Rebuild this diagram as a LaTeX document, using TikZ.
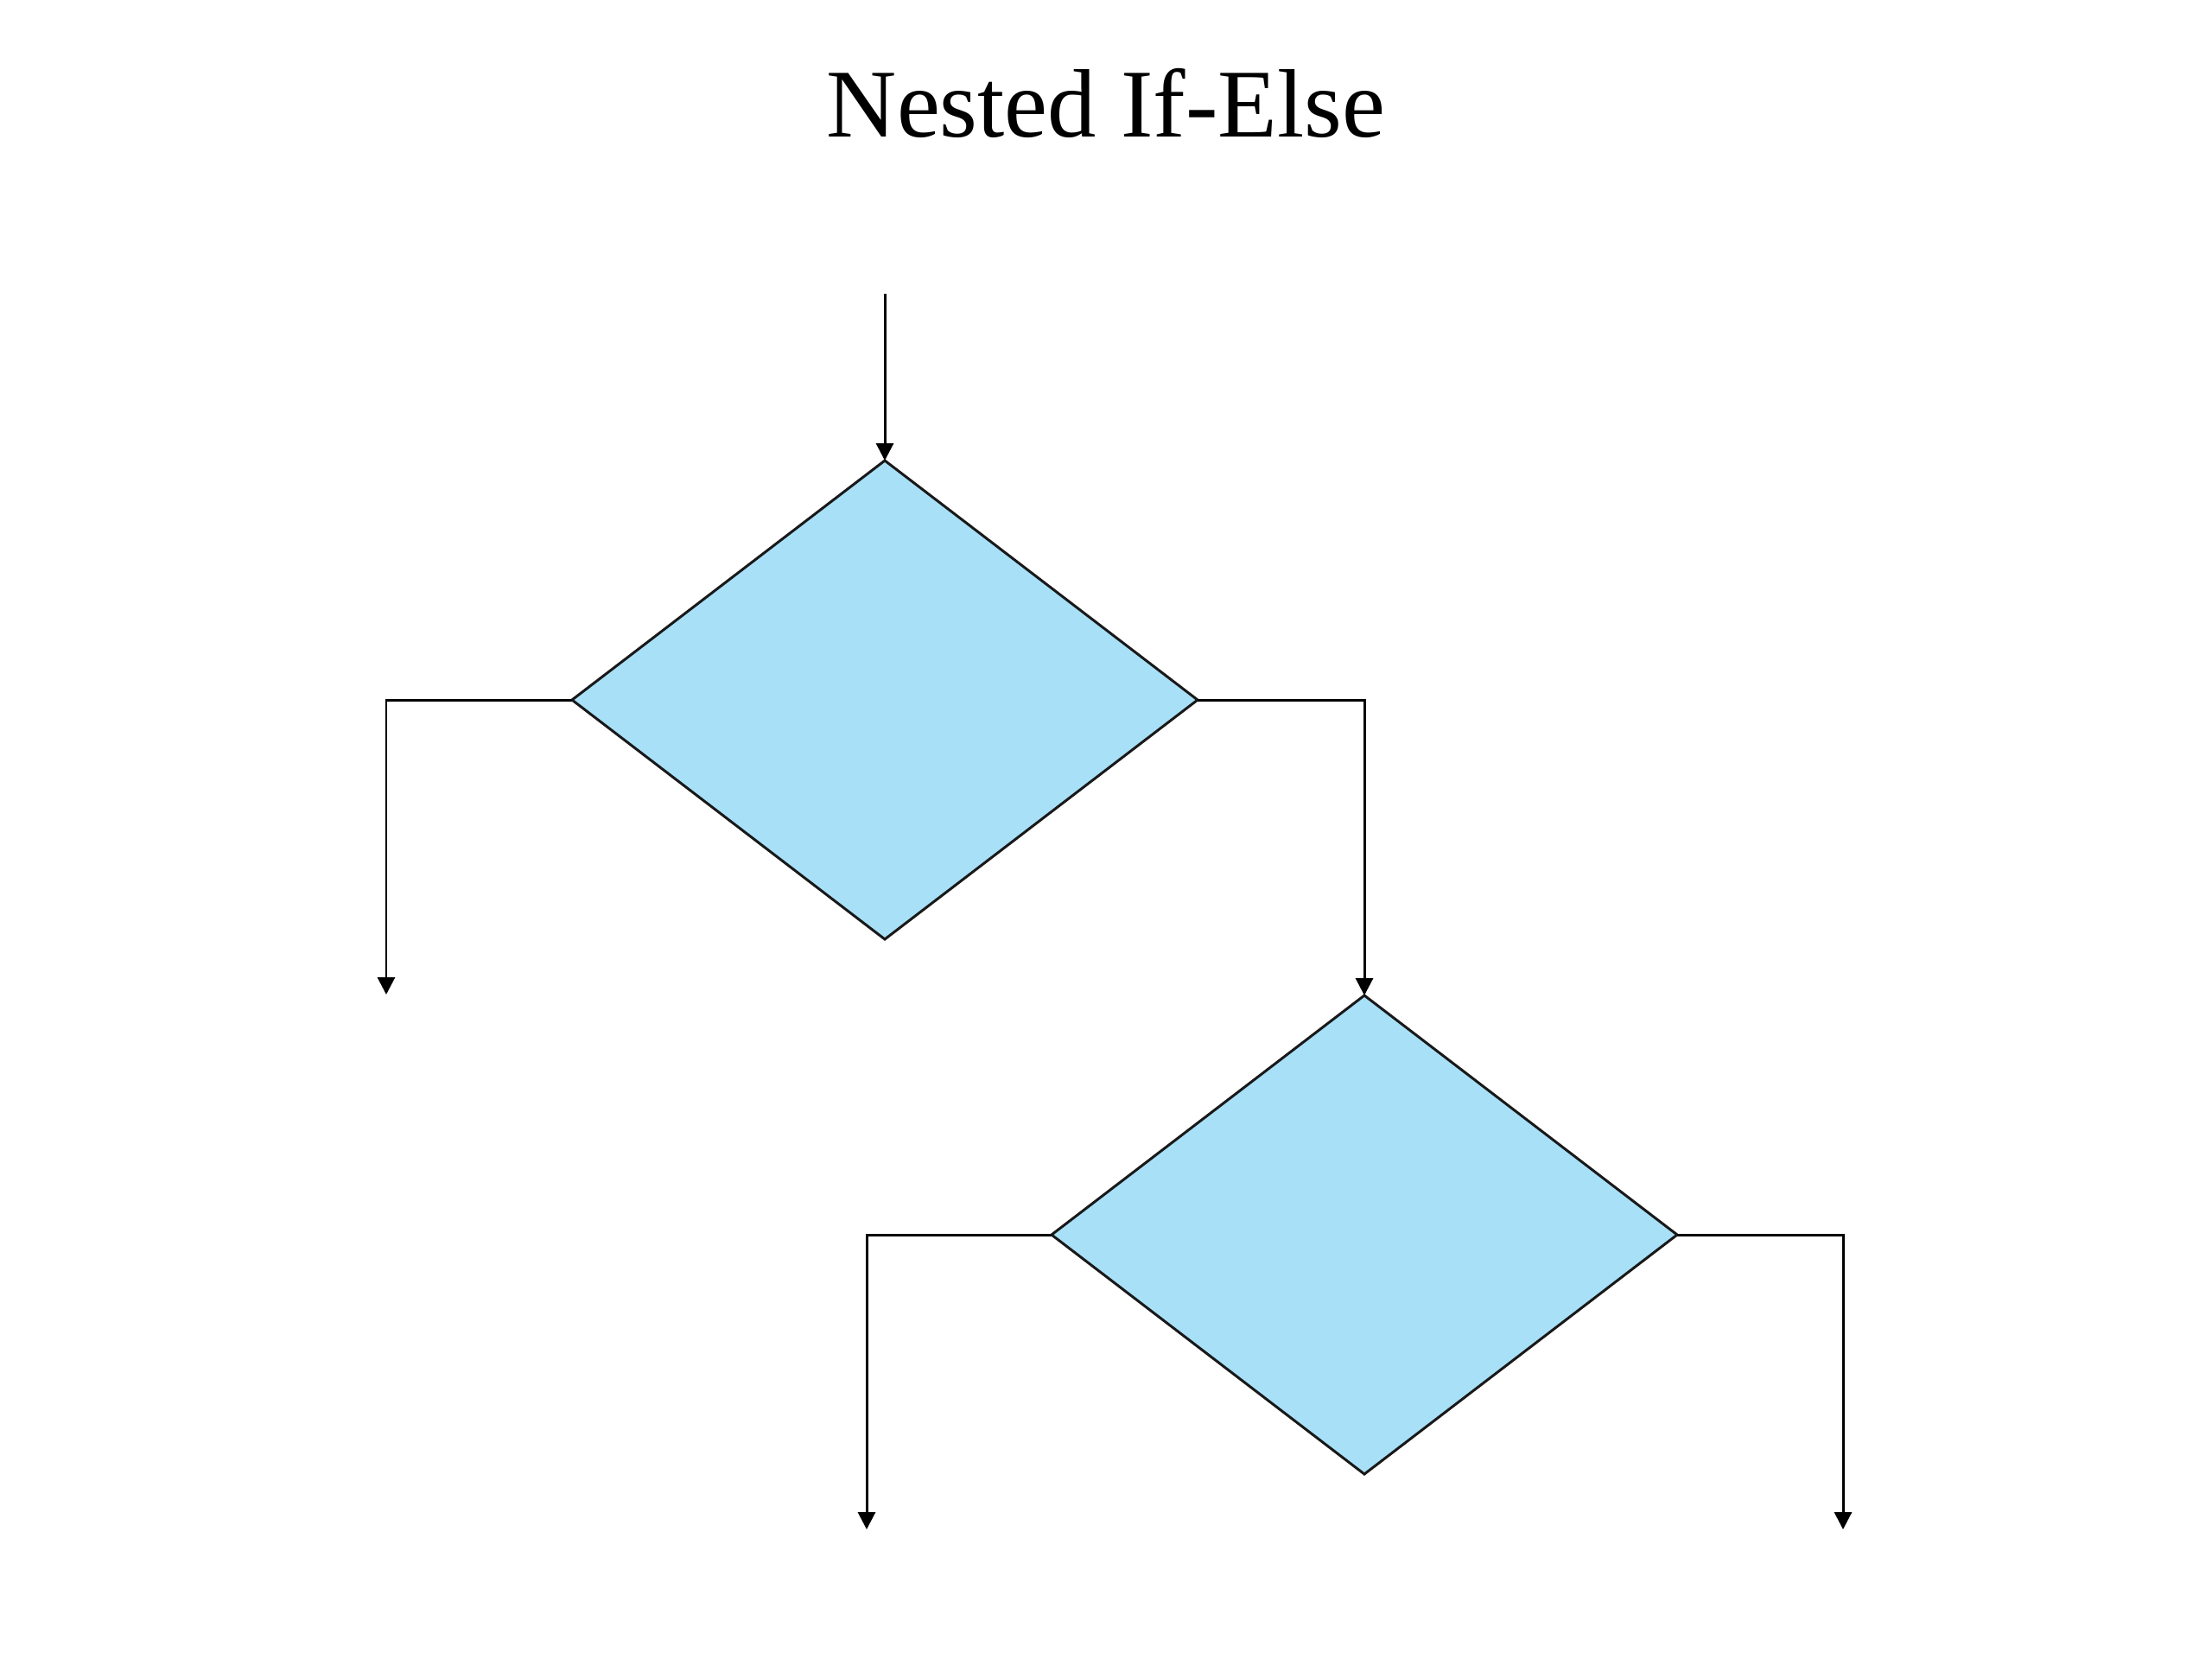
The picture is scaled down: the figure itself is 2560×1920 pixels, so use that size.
\documentclass[tikz,border=0pt]{standalone}
\usepackage{fontspec}
\setmainfont{Liberation Serif}
\usetikzlibrary{arrows.meta, shapes.geometric}

\definecolor{decisionblue}{RGB}{168,224,248}

\begin{document}
\begin{tikzpicture}[
            x = 0.1mm, y = -0.1mm, % one unit per pixel, y down
            > = {Triangle[width=2mm, length=2mm]}, % arrow head style
            line width = 0.85pt % line style
        ]

        \tikzstyle{decision}=[
            diamond,
            draw = black!90,
            fill = decisionblue,
            line width = 0.85pt,
            inner sep = 0pt,
            outer sep = 0pt,
            minimum width = 72.4mm,
            minimum height = 55.4mm
        ]

        \useasboundingbox (0,0) rectangle (2560,1920);

        \node (title) [anchor=base] at (1280,158) {\fontsize{32}{38}\selectfont Nested If-Else};

        \coordinate (in) at (1024,340);
        \node (outer) [decision] at (1024,810) {};
        \node (inner) [decision] at (1579,1429) {};
        \coordinate (outerno) at (447,1151);
        \coordinate (innerno) at (1003,1770);
        \coordinate (inneryes) at (2133,1770);

        \draw[->] (in) -- (outer.north);
        \draw[->] (outer.west) -| (outerno);
        \draw[->] (outer.east) -| (inner.north);
        \draw[->] (inner.west) -| (innerno);
        \draw[->] (inner.east) -| (inneryes);

    \end{tikzpicture}
\end{document}
